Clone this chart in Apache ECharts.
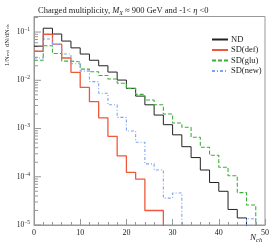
<!DOCTYPE html>
<html><head><meta charset="utf-8">
<script src="https://cdn.jsdelivr.net/npm/echarts@6/dist/echarts.min.js"></script>
<style>html,body{margin:0;padding:0;background:#fff}#c{width:274px;height:248px}</style>
</head><body><div id="c"></div>
<script>
const binWidth = 2;
const seriesNames = ['ND', 'SD(def)', 'SD(glu)', 'SD(new)'];
const ndValues = [0.051,0.12,0.091,0.065,0.047,0.035,0.026,0.020,0.0148,0.0101,0.0068,0.0047,0.0031,0.0019,0.0012,0.00074,0.00042,0.00025,0.000138,7.6e-5,5.0e-5,2.1e-5,1.4e-5];
const sdDefValues = [0.040,0.090,0.056,0.029,0.0146,0.0071,0.0036,0.00167,0.00069,0.00027,0.000123,0.000089,2.0e-5,2.0e-5];
const sdGluValues = [0.026,0.052,0.036,0.025,0.024,0.0170,0.0150,0.0126,0.0106,0.0087,0.0068,0.0051,0.0039,0.0031,0.0020,0.0013,0.00106,0.00066,0.00041,0.00028,0.000158,0.000105,4.7e-5,2.6e-5];
const sdNewValues = [0.029,0.072,0.055,0.035,0.022,0.0155,0.0094,0.0054,0.0031,0.0017,0.00089,0.00052,0.000185,0.000138,3.6e-5,4.6e-5,null,null,null,null,null,null,null,1.35e-5];
const xTickLabels = [0,10,20,30,40,50];
const yDecades = [-5,-4,-3,-2,-1];

const FLOOR = 1e-8;
function steps(vals){
  const pts = [];
  vals.forEach((v,i)=>{ const y = (v==null)?FLOOR:v; pts.push([i*binWidth,y],[(i+1)*binWidth,y]); });
  pts.push([vals.length*binWidth, FLOOR]);
  return pts;
}
const yTicks = [];
for (let e=-5; e<=-1; e++){ for (let m=1; m<=9; m++){ const v=m*Math.pow(10,e); if (v<=0.21) yTicks.push([v, m===1?1:0]); } }

const font = 'Liberation Serif';
const ink = '#222';
const chart = echarts.init(document.getElementById('c'), null, {renderer:'canvas'});
chart.setOption({
  animation:false,
  textStyle:{fontFamily:font},
  title:{left:33, top:1, text:'{n|Charged multiplicity, }{i|M}{sub|X}{n| ≈ 900 GeV and -1< }{i|η}{n| <0}',
    textStyle:{fontWeight:'normal', rich:{
      n:{fontSize:8.5,fontFamily:font,fontWeight:'normal',color:ink},
      i:{fontSize:8.5,fontFamily:font,fontStyle:'italic',fontWeight:'normal',color:ink},
      sub:{fontSize:6,fontFamily:font,fontStyle:'italic',fontWeight:'normal',color:ink,verticalAlign:'bottom',padding:[4,0,0,0]}}}},
  grid:{left:34, right:9, top:16.5, bottom:23, show:true, borderColor:'#999', borderWidth:1},
  legend:{orient:'vertical', left:206, top:30, itemWidth:16, itemHeight:8, itemGap:1.5,
    itemStyle:{opacity:0},
    textStyle:{fontSize:8.5, fontFamily:font, color:ink, padding:[0,0,0,-2]}, data:seriesNames},
  xAxis:{type:'value', min:0, max:50, interval:10,
    axisLine:{lineStyle:{color:'#999'}},
    axisTick:{inside:true, length:6, lineStyle:{color:'#999'}},
    minorTick:{show:true, splitNumber:5, length:3, lineStyle:{color:'#999'}},
    splitLine:{show:false},
    axisLabel:{fontSize:8, fontFamily:font, color:ink, margin:4,
      formatter:v=> xTickLabels.includes(v)? String(v):''}},
  yAxis:{type:'log', logBase:10, min:1e-5, max:0.21,
    axisLine:{lineStyle:{color:'#999'}}, axisTick:{show:false}, splitLine:{show:false},
    axisLabel:{showMaxLabel:false, margin:4, fontFamily:font, color:ink,
      formatter:v=>{ const e=Math.log10(v); if (Math.abs(e-Math.round(e))>1e-6) return ''; return yDecades.includes(Math.round(e))? '{b|10}{s|'+(Math.round(e)<0?'−':'')+Math.abs(Math.round(e))+'}':''; },
      rich:{b:{fontSize:7.5,fontFamily:font,color:ink},s:{fontSize:5.5,fontFamily:font,color:ink,verticalAlign:'top',padding:[0,0,5,0]}}}},
  graphic:[
    {type:'text', x:4, y:66, rotation:Math.PI/2, style:{text:'{a|1/N}{sub|evt}{a|  dN/dN}{sub|ch}', rich:{a:{fontSize:6.5,fontFamily:font,fill:ink},sub:{fontSize:5,fontFamily:font,fill:ink}}}},
    {type:'text', x:250, y:232, style:{text:'{i|N}{sub|ch}', rich:{i:{fontSize:9,fontFamily:font,fontStyle:'italic',fill:ink},sub:{fontSize:6.5,fontFamily:font,fontStyle:'italic',fill:ink,padding:[5,0,0,0]}}}}
  ],
  series:[
    {type:'custom', silent:true, data:yTicks, z:1,
      renderItem:(params, api)=>{ const p=api.coord([0, api.value(0)]); const len=api.value(1)?7:4;
        return {type:'line', shape:{x1:p[0], y1:p[1], x2:p[0]+len, y2:p[1]}, style:{stroke:'#999', lineWidth:1}}; }},
    {name:'ND', type:'line', data:steps(ndValues), symbol:'none', lineStyle:{color:'#222', width:1}, itemStyle:{color:'#222'}},
    {name:'SD(def)', type:'line', data:steps(sdDefValues), symbol:'none', lineStyle:{color:'#f0583a', width:1.3}, itemStyle:{color:'#f48870'}},
    {name:'SD(glu)', type:'line', data:steps(sdGluValues), symbol:'none', lineStyle:{color:'#3cae3c', width:1.1, type:[4,2]}, itemStyle:{color:'#3cae3c'}},
    {name:'SD(new)', type:'line', data:steps(sdNewValues), symbol:'none', lineStyle:{color:'#7ca2f5', width:1.1, type:[3,2,1,2]}, itemStyle:{color:'#7ca2f5'}}
  ]
});
</script></body></html>
